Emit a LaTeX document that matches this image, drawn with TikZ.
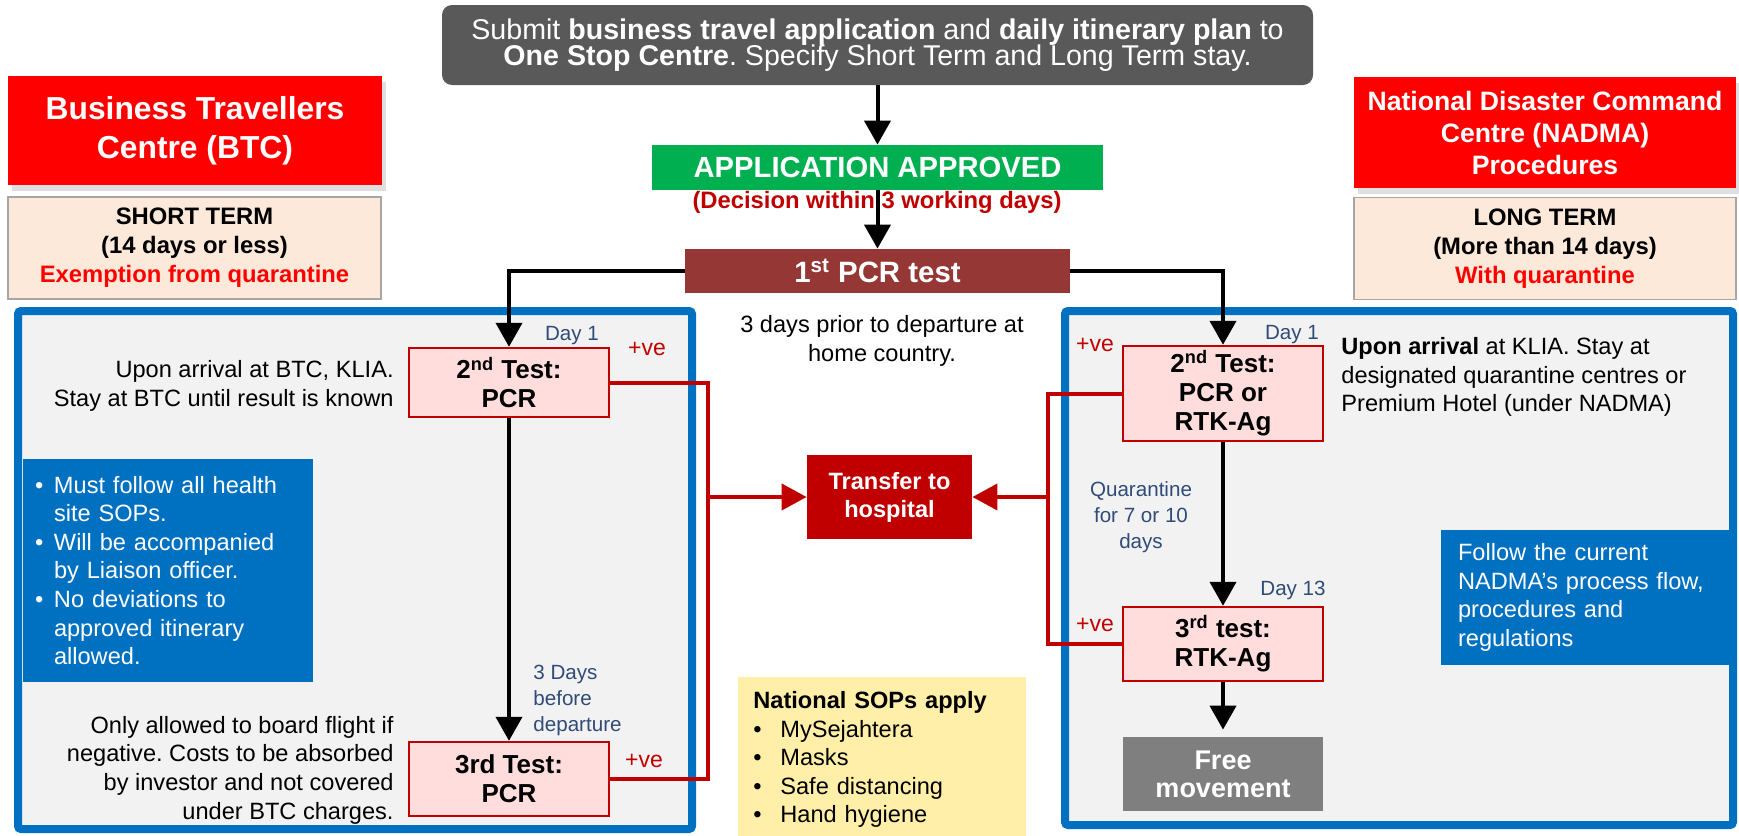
\documentclass[tikz,border=0pt]{standalone}
\usepackage{fontspec}
\setmainfont{Liberation Sans}
\usetikzlibrary{arrows.meta,positioning,shadows}
\frenchspacing

\definecolor{darkgrey}{HTML}{595959}
\definecolor{okgreen}{HTML}{00B050}
\definecolor{darkred}{HTML}{C00000}
\definecolor{brick}{HTML}{953735}
\definecolor{peach}{HTML}{FDE9D9}
\definecolor{termgrey}{HTML}{A6A6A6}
\definecolor{zoneblue}{HTML}{0070C0}
\definecolor{zonegrey}{HTML}{F2F2F2}
\definecolor{testpink}{HTML}{FFDDDD}
\definecolor{slate}{HTML}{2F4C78}
\definecolor{sopyellow}{HTML}{FFEFA8}
\definecolor{freegrey}{HTML}{7F7F7F}

\newcommand\bul[1][9.5pt]{\makebox[#1][l]{\textbullet}}
\newcommand\tightlines{\lineskiplimit=-20pt\relax}

\begin{document}
\begin{tikzpicture}[x=0.5pt,y=-0.5pt,
            every node/.style={inner sep=0pt},
            bodytxt/.style={font=\fontsize{11.8}{14.3}\selectfont},
            daytxt/.style={font=\fontsize{10.3}{13}\selectfont,text=slate},
            plusve/.style={font=\fontsize{11.5}{13}\selectfont,text=darkred},
            headbox/.style={fill=red,text=white,align=center,drop shadow={shadow xshift=2pt,shadow yshift=-3pt,opacity=.25}},
            termbox/.style={fill=peach,draw=termgrey,line width=.6pt,align=center,minimum height=51pt,font=\bfseries\fontsize{11.9}{14.5}\selectfont},
            zonebox/.style={draw=zoneblue,fill=zonegrey,line width=4pt,rounded corners=1.5pt},
            testbox/.style={fill=testpink,draw=darkred,line width=1.2pt,align=center,minimum width=100pt,font=\bfseries\fontsize{13}{14.5}\selectfont},
            notebox/.style={fill=zoneblue,text=white,align=left,bodytxt},
            flowarrow/.style={line width=2pt,-{Triangle[width=13pt,length=12pt]}},
            redlink/.style={draw=darkred,line width=2pt}
          ]
          \path[use as bounding box,fill=white] (0,0) rectangle (1739,835);

          %zones
          \node[zonebox,minimum width=337pt,minimum height=259pt] (btczone) at (355,570) {};
          \node[zonebox,minimum width=334pt,minimum height=257pt] (nadmazone) at (1399,568) {};

          %header
          \node[fill=darkgrey,text=white,rounded corners=5pt,minimum width=435.5pt,minimum height=40pt,align=center,
                font=\fontsize{14.3}{13.2}\selectfont\tightlines] (submit) at (877.5,45)
                {Submit \textbf{business travel application} and \textbf{daily itinerary plan} to\\\textbf{One Stop Centre}. Specify Short Term and Long Term stay.};
          \node[headbox,minimum width=187pt,minimum height=54.5pt,font=\bfseries\fontsize{15.9}{19.5}\selectfont] (btc) at (195,130.5) {Business Travellers\\Centre (BTC)};
          \node[headbox,minimum width=191pt,minimum height=55.5pt,font=\bfseries\fontsize{13.3}{16}\selectfont] (nadma) at (1545,132.5) {National Disaster Command\\Centre (NADMA)\\Procedures};
          \node[termbox,minimum width=186.5pt] (short) at (194.5,248) {SHORT TERM\\(14 days or less)\\\textcolor{red}{Exemption from quarantine}};
          \node[termbox,minimum width=191pt] (long) at (1545,248.5) {LONG TERM\\(More than 14 days)\\\textcolor{red}{With quarantine}};

          %flow
          \node[fill=okgreen,text=white,minimum width=225.5pt,minimum height=22.5pt,font=\bfseries\fontsize{14.6}{16}\selectfont] (approved) at (877.5,167.5) {APPLICATION APPROVED};
          \node[text=darkred,font=\bfseries\fontsize{11.9}{14}\selectfont] (decision) at (877,202) {(Decision within 3 working days)};
          \node[fill=brick,text=white,minimum width=192.5pt,minimum height=22pt,font=\bfseries\fontsize{14.7}{16}\selectfont] (pcr1) at (877.5,271) {1\textsuperscript{st} PCR test};
          \node[bodytxt,align=center] (prior) at (882,341) {3 days prior to departure at\\home country.};

          %short term side
          \node[testbox,minimum height=34.5pt] (testL2) at (509,382.5) {2\textsuperscript{nd} Test:\\PCR};
          \node[testbox,minimum height=37pt] (testL3) at (509,779) {3rd Test:\\PCR};
          \node[bodytxt,align=right,anchor=east] (arriveL) at (394,386) {Upon arrival at BTC, KLIA.\\Stay at BTC until result is known};
          \node[bodytxt,align=right,anchor=east] (boardL) at (394,770) {Only allowed to board flight if\\negative. Costs to be absorbed\\by investor and not covered\\under BTC charges.};
          \node[notebox,text width=133pt,inner xsep=6pt,minimum height=111.5pt] (rulesL) at (168,570.5)
                {\bul Must follow all health\\\hspace*{9.5pt}site SOPs.\\\bul Will be accompanied\\\hspace*{9.5pt}by Liaison officer.\\\bul No deviations to\\\hspace*{9.5pt}approved itinerary\\\hspace*{9.5pt}allowed.};

          %long term side
          \node[testbox,minimum height=47.5pt] (testR2) at (1223,393.5) {2\textsuperscript{nd} Test:\\PCR or\\RTK-Ag};
          \node[testbox,minimum height=37pt] (testR3) at (1223,644) {3\textsuperscript{rd} test:\\RTK-Ag};
          \node[fill=freegrey,text=white,minimum width=100pt,minimum height=37pt,align=center,font=\bfseries\fontsize{13.5}{14}\selectfont] (free) at (1223,774) {Free\\movement};
          \node[bodytxt,align=left,anchor=west] (arriveR) at (1341,377) {\textbf{Upon arrival} at KLIA. Stay at\\designated quarantine centres or\\Premium Hotel (under NADMA)};
          \node[notebox,text width=129.5pt,inner xsep=8.5pt,minimum height=67.5pt] (rulesR) at (1587.5,597.5)
                {Follow the current\\NADMA’s process flow,\\procedures and\\regulations};

          %middle
          \node[fill=darkred,text=white,minimum width=82.5pt,minimum height=42pt,align=center,font=\bfseries\fontsize{11.8}{14}\selectfont] (transfer) at (889.5,497) {Transfer to\\hospital};
          \node[fill=sopyellow,anchor=north west,text width=129pt,inner xsep=7.5pt,inner ysep=7pt,align=left,bodytxt] (sops) at (738,677)
                {\textbf{National SOPs apply}\\\bul[13.5pt]MySejahtera\\\bul[13.5pt]Masks\\\bul[13.5pt]Safe distancing\\\bul[13.5pt]Hand hygiene};

          %labels
          \node[daytxt] (dayL) at (572,336) {Day 1};
          \node[plusve] (veL2) at (647,349) {+ve};
          \node[plusve] (veL3) at (644,761) {+ve};
          \node[daytxt,align=left,anchor=west] (beforeL) at (533,700) {3 Days\\before\\departure};
          \node[daytxt] (dayR) at (1292,335) {Day 1};
          \node[plusve] (veR2) at (1095,345) {+ve};
          \node[plusve] (veR3) at (1095,625) {+ve};
          \node[daytxt] (dayR13) at (1293,590) {Day 13};
          \node[daytxt,align=center] (quar) at (1141,517) {Quarantine\\for 7 or 10\\days};

          %black arrows
          \path[flowarrow]
          (submit) edge (approved)
          (approved) edge (pcr1)
          (testL2) edge (testL3)
          (testR2) edge (testR3)
          ;
          \draw[flowarrow] (pcr1.west) -| (testL2.north);
          \draw[flowarrow] (pcr1.east) -| (testR2.north);
          \draw[flowarrow,shorten >=3.5pt] (testR3) -- (free);

          %positive results
          \coordinate (jL) at (708,497);
          \coordinate (jR) at (1048,497);
          \draw[redlink] (testL2.east) -| (jL) |- (testL3.east);
          \draw[redlink] (testR2.west) -| (jR) |- (testR3.west);
          \draw[redlink,-{Triangle[width=13pt,length=12.5pt]}] (jL) -- (transfer.west);
          \draw[redlink,-{Triangle[width=13pt,length=12.5pt]}] (jR) -- (transfer.east);
      \end{tikzpicture}
\end{document}
